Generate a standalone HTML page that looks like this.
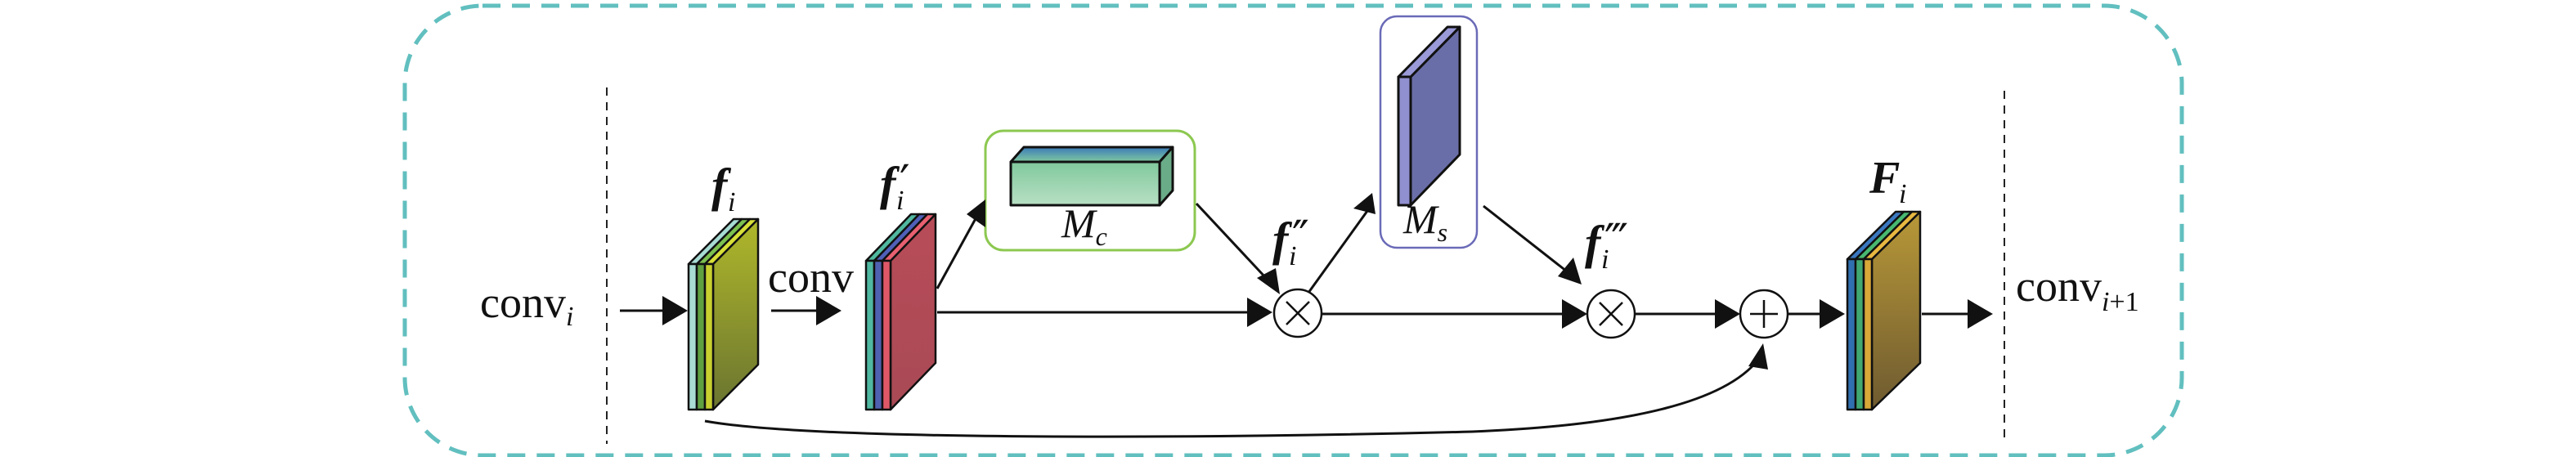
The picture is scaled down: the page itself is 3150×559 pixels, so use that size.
<!DOCTYPE html>
<html><head><meta charset="utf-8"><style>
html,body{margin:0;padding:0;background:#fff;}
svg{display:block;}
text{font-family:"Liberation Serif",serif;fill:#111;}
.pr{font-family:"DejaVu Serif","Liberation Serif",serif;}
</style></head><body>
<svg width="3150" height="559" viewBox="0 0 3150 559" xmlns="http://www.w3.org/2000/svg">
<defs>
<linearGradient id="gy" x1="0" y1="0" x2="0" y2="1"><stop offset="0" stop-color="#b0b82a"/><stop offset="1" stop-color="#6a7430"/></linearGradient>
<linearGradient id="gr" x1="0" y1="0" x2="0" y2="1"><stop offset="0" stop-color="#b84c58"/><stop offset="1" stop-color="#a84a55"/></linearGradient>
<linearGradient id="gg" x1="0" y1="0" x2="0" y2="1"><stop offset="0" stop-color="#b89838"/><stop offset="1" stop-color="#6e5a30"/></linearGradient>
<linearGradient id="gc" x1="0" y1="0" x2="0" y2="1"><stop offset="0" stop-color="#80c89c"/><stop offset="1" stop-color="#b8e0c4"/></linearGradient>
<linearGradient id="gt" x1="0" y1="0" x2="0" y2="1"><stop offset="0" stop-color="#3a7ab8"/><stop offset="1" stop-color="#80c8a0"/></linearGradient>
</defs>

<rect x="495" y="7" width="2173" height="550" rx="95" ry="95" fill="none" stroke="#62bfbf" stroke-width="5" stroke-dasharray="22,14"/>
<line x1="742" y1="107" x2="742" y2="543" stroke="#222" stroke-width="2" stroke-dasharray="10,8"/>
<line x1="2451" y1="111" x2="2451" y2="535" stroke="#222" stroke-width="2" stroke-dasharray="10,8"/>

<text x="587" y="388" font-size="54">conv<tspan font-size="34" font-style="italic" dy="10">i</tspan></text>
<text x="939" y="357" font-size="54">conv</text>
<text x="2465" y="368" font-size="54">conv<tspan font-size="34" font-style="italic" dy="12">i</tspan><tspan font-size="34" dy="0">+1</tspan></text>

<g stroke="#111" stroke-width="2.5" stroke-linejoin="round">
<polygon points="872,323 927,268 927,446 872,501" fill="url(#gy)"/>
<polygon points="842,323 852,323 907,268 897,268" fill="#a8dcd4"/>
<polygon points="852,323 862,323 917,268 907,268" fill="#7cc050"/>
<polygon points="862,323 872,323 927,268 917,268" fill="#d8e038"/>
<rect x="842" y="323" width="10" height="178" fill="#a8dcd4"/>
<rect x="852" y="323" width="10" height="178" fill="#5fa040"/>
<rect x="862" y="323" width="10" height="178" fill="#c8d030"/>
</g>
<text x="870" y="246" font-size="58" font-weight="bold" font-style="italic">f</text>
<text x="890" y="258" font-size="34" font-style="italic">i</text>

<g stroke="#111" stroke-width="2.5" stroke-linejoin="round">
<polygon points="1089,319 1144,262 1144,444 1089,501" fill="url(#gr)"/>
<polygon points="1059,319 1069,319 1124,262 1114,262" fill="#50b8a0"/>
<polygon points="1069,319 1079,319 1134,262 1124,262" fill="#5060b8"/>
<polygon points="1079,319 1089,319 1144,262 1134,262" fill="#e86070"/>
<rect x="1059" y="319" width="10" height="182" fill="#50b8a0"/>
<rect x="1069" y="319" width="10" height="182" fill="#5060b0"/>
<rect x="1079" y="319" width="10" height="182" fill="#e05868"/>
</g>
<text x="1076" y="244" font-size="58" font-weight="bold" font-style="italic">f</text>
<text class="pr" x="1100" y="242" font-size="56">′</text>
<text x="1096" y="256" font-size="34" font-style="italic">i</text>

<g stroke="#111" stroke-width="2.5" stroke-linejoin="round">
<polygon points="2289,317 2348,259 2348,444 2289,501" fill="url(#gg)"/>
<polygon points="2259,317 2269,317 2328,259 2318,259" fill="#3a78c0"/>
<polygon points="2269,317 2279,317 2338,259 2328,259" fill="#48b870"/>
<polygon points="2279,317 2289,317 2348,259 2338,259" fill="#e8b840"/>
<rect x="2259" y="317" width="10" height="184" fill="#3070b0"/>
<rect x="2269" y="317" width="10" height="184" fill="#40a870"/>
<rect x="2279" y="317" width="10" height="184" fill="#d8a838"/>
</g>
<text x="2286" y="236" font-size="56" font-weight="bold" font-style="italic">F</text>
<text x="2322" y="248" font-size="34" font-style="italic">i</text>

<rect x="1205" y="160" width="256" height="146" rx="22" ry="22" fill="#fff" stroke="#8cc850" stroke-width="3"/>
<g stroke="#111" stroke-width="3" stroke-linejoin="round">
<polygon points="1236,198 1252,180 1434,180 1418,198" fill="url(#gt)"/>
<polygon points="1418,198 1434,180 1434,233 1418,251" fill="#6aac88"/>
<rect x="1236" y="198" width="182" height="53" fill="url(#gc)"/>
</g>
<text x="1298" y="290" font-size="50" font-style="italic">M<tspan font-size="32" dy="10">c</tspan></text>

<rect x="1688" y="20" width="118" height="283" rx="20" ry="20" fill="#fff" stroke="#6a6ab8" stroke-width="2.5"/>
<g stroke="#111" stroke-width="3" stroke-linejoin="round">
<polygon points="1725,94 1785,33 1785,189 1725,251" fill="#6a6ea8"/>
<polygon points="1710,94 1725,94 1785,33 1770,33" fill="#9a9ad8"/>
<rect x="1710" y="94" width="15" height="157" fill="#9090d0"/>
</g>
<text x="1716" y="285" font-size="50" font-style="italic">M<tspan font-size="32" dy="10">s</tspan></text>

<g fill="#fff" stroke="#111" stroke-width="2.5">
<circle cx="1587" cy="383" r="29"/>
<circle cx="1970" cy="384" r="29"/>
<circle cx="2157" cy="384" r="29"/>
</g>
<g stroke="#111" stroke-width="2.5">
<line x1="1573" y1="369" x2="1601" y2="397"/><line x1="1601" y1="369" x2="1573" y2="397"/>
<line x1="1956" y1="370" x2="1984" y2="398"/><line x1="1984" y1="370" x2="1956" y2="398"/>
<line x1="2140" y1="384" x2="2174" y2="384"/><line x1="2157" y1="367" x2="2157" y2="401"/>
</g>
<text x="1556" y="312" font-size="58" font-weight="bold" font-style="italic">f</text>
<text class="pr" x="1580" y="310" font-size="56">″</text>
<text x="1576" y="324" font-size="34" font-style="italic">i</text>
<text x="1938" y="316" font-size="58" font-weight="bold" font-style="italic">f</text>
<text class="pr" x="1962" y="314" font-size="56">‴</text>
<text x="1958" y="328" font-size="34" font-style="italic">i</text>

<g stroke="#111" stroke-width="3" fill="none">
<line x1="758" y1="380" x2="812" y2="380"/>
<line x1="943" y1="380" x2="1000" y2="380"/>
<line x1="1146" y1="382" x2="1528" y2="382"/>
<line x1="1146" y1="353" x2="1196" y2="262"/>
<line x1="1463" y1="249" x2="1548" y2="340"/>
<line x1="1600" y1="358" x2="1672" y2="258"/>
<line x1="1616" y1="384" x2="1912" y2="384"/>
<line x1="1814" y1="252" x2="1916" y2="332"/>
<line x1="1999" y1="384" x2="2100" y2="384"/>
<line x1="2186" y1="384" x2="2226" y2="384"/>
<line x1="2350" y1="384" x2="2408" y2="384"/>
<path d="M862,515 C1000,540 1500,536 1800,528 C2000,520 2110,490 2150,440"/>
</g>
<g fill="#111">
<polygon points="841,380 810,362 810,398"/>
<polygon points="1029,380 998,362 998,398"/>
<polygon points="1556,382 1525,364 1525,400"/>
<polygon points="1941,384 1910,366 1910,402"/>
<polygon points="2128,384 2097,366 2097,402"/>
<polygon points="2256,384 2225,366 2225,402"/>
<polygon points="2437,384 2406,366 2406,402"/>
<polygon points="1205,244 1182,262 1205,278"/>
<polygon points="1565,360 1537,340 1560,328"/>
<polygon points="1678,236 1655,255 1682,262"/>
<polygon points="1934,348 1905,338 1924,315"/>
<polygon points="2156,420 2138,448 2162,452"/>
</g>
</svg>
</body></html>
